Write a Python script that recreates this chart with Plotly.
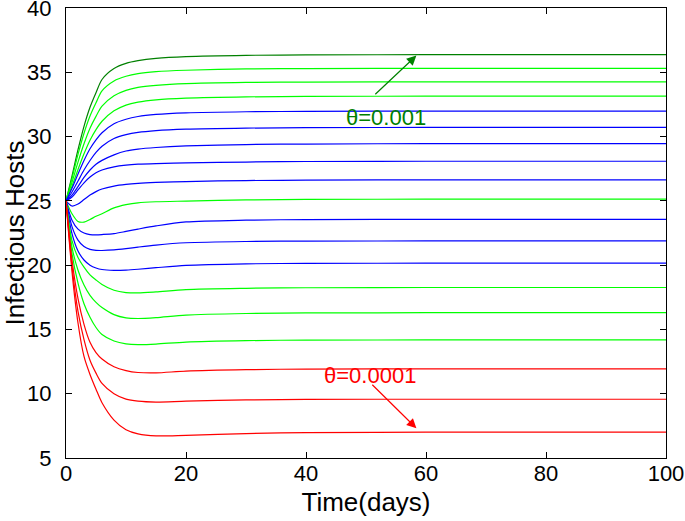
import plotly.graph_objects as go

t = [0, 1, 2, 3, 4, 5, 6, 8, 10, 12, 15, 20, 30, 40, 60, 100]

c1 = [25, 26.93, 28.98, 30.80, 32.28, 33.41, 34.44, 35.29, 35.69, 35.90, 36.08, 36.22, 36.32, 36.35, 36.37, 36.37]
c2 = [25, 26.75, 28.61, 30.26, 31.60, 32.63, 33.56, 34.33, 34.69, 34.90, 35.05, 35.16, 35.26, 35.29, 35.31, 35.31]
c3 = [25, 26.44, 28.01, 29.44, 30.65, 31.57, 32.36, 33.17, 33.59, 33.82, 33.98, 34.12, 34.21, 34.24, 34.26, 34.26]
c4 = [25, 26.14, 27.44, 28.66, 29.72, 30.54, 31.19, 32.00, 32.45, 32.68, 32.86, 32.99, 33.09, 33.12, 33.14, 33.14]
c5 = [25, 25.98, 27.09, 28.14, 29.05, 29.75, 30.30, 31.00, 31.35, 31.56, 31.72, 31.84, 31.93, 31.96, 31.98, 31.98]
c6 = [25, 25.69, 26.54, 27.40, 28.14, 28.77, 29.25, 29.85, 30.15, 30.33, 30.47, 30.58, 30.66, 30.69, 30.71, 30.71]
c7 = [25, 25.45, 26.11, 26.82, 27.40, 27.85, 28.15, 28.58, 28.88, 29.03, 29.15, 29.27, 29.38, 29.42, 29.45, 29.45]
c8 = [25, 25.30, 25.85, 26.40, 26.85, 27.18, 27.40, 27.65, 27.78, 27.85, 27.90, 27.95, 28.02, 28.06, 28.08, 28.08]
c9 = [25, 24.60, 24.75, 25.10, 25.45, 25.72, 25.92, 26.15, 26.28, 26.36, 26.43, 26.50, 26.58, 26.61, 26.63, 26.63]
c10 = [25, 24.00, 23.40, 23.35, 23.55, 23.80, 24.00, 24.45, 24.70, 24.85, 24.93, 24.98, 25.07, 25.11, 25.13, 25.13]
c11 = [25, 23.50, 22.80, 22.50, 22.38, 22.36, 22.38, 22.45, 22.62, 22.80, 23.05, 23.36, 23.50, 23.54, 23.56, 23.56]
c12 = [25, 23.00, 21.95, 21.45, 21.23, 21.15, 21.14, 21.18, 21.28, 21.40, 21.56, 21.74, 21.84, 21.87, 21.88, 21.88]
c13 = [25, 22.45, 21.10, 20.40, 20.00, 19.78, 19.66, 19.60, 19.62, 19.68, 19.80, 19.98, 20.10, 20.14, 20.15, 20.15]
c14 = [25, 21.90, 20.60, 19.85, 19.25, 18.85, 18.50, 18.05, 17.87, 17.84, 17.92, 18.10, 18.20, 18.24, 18.26, 18.26]
c15 = [25, 21.40, 19.60, 18.45, 17.65, 17.10, 16.70, 16.15, 15.90, 15.85, 15.92, 16.12, 16.24, 16.28, 16.30, 16.30]
c16 = [25, 20.90, 18.60, 17.00, 15.95, 15.15, 14.60, 14.10, 13.88, 13.82, 13.86, 14.02, 14.13, 14.17, 14.18, 14.18]
c17 = [25, 20.40, 17.40, 15.40, 14.00, 13.20, 12.70, 12.10, 11.80, 11.65, 11.62, 11.76, 11.87, 11.92, 11.93, 11.93]
c18 = [25, 19.90, 16.40, 14.20, 12.60, 11.60, 10.80, 10.00, 9.58, 9.42, 9.35, 9.42, 9.52, 9.56, 9.57, 9.57]
c19 = [25, 19.50, 15.50, 12.90, 11.50, 10.35, 9.30, 7.95, 7.20, 6.88, 6.72, 6.76, 6.90, 6.97, 7.01, 7.02]

curves = [c1, c2, c3, c4, c5, c6, c7, c8, c9, c10, c11, c12, c13, c14, c15, c16, c17, c18, c19]

DG = "rgb(0,128,0)"
G = "rgb(0,255,0)"
B = "rgb(0,0,255)"
R = "rgb(255,0,0)"
colors = [DG, G, G, G, B, B, B, B, B, G, B, B, B, G, G, G, R, R, R]

x_ticks = [0, 20, 40, 60, 80, 100]
y_ticks = [5, 10, 15, 20, 25, 30, 35, 40]

label_hi = "θ=0.001"
label_lo = "θ=0.0001"

fig = go.Figure()
for y, c in zip(curves, colors):
    fig.add_trace(go.Scatter(x=t, y=y, mode="lines",
                             line=dict(color=c, width=1.2, shape="spline", smoothing=0.8),
                             hoverinfo="skip"))

FONT = "Liberation Sans, Arial, Helvetica, sans-serif"

fig.update_layout(
    width=685, height=521,
    margin=dict(l=66, r=19, t=8, b=63, autoexpand=False),
    plot_bgcolor="white", paper_bgcolor="white",
    showlegend=False,
    font=dict(family=FONT, size=22, color="black"),
)
axis_common = dict(showline=True, linecolor="black", linewidth=1, mirror="ticks",
                   ticks="inside", ticklen=6, tickcolor="black", tickwidth=1,
                   showgrid=False, zeroline=False, automargin=False,
                   ticklabeloverflow="allow")
fig.update_xaxes(range=[0, 100], tickvals=x_ticks, ticklabelstandoff=-4,
                 title=dict(text="Time(days)", standoff=7), **axis_common)
fig.update_yaxes(range=[5, 40], tickvals=y_ticks, ticklabelstandoff=9,
                 title=dict(text="Infectious Hosts", standoff=10), **axis_common)

# arrows
fig.add_annotation(x=58.4, y=36.3, ax=51.3, ay=33.18, xref="x", yref="y", axref="x", ayref="y",
                   text="", showarrow=True, arrowhead=2, arrowsize=1.6, arrowwidth=1.2,
                   arrowcolor=DG)
fig.add_annotation(x=58.4, y=7.31, ax=50.8, ay=10.81, xref="x", yref="y", axref="x", ayref="y",
                   text="", showarrow=True, arrowhead=2, arrowsize=1.6, arrowwidth=1.2,
                   arrowcolor=R)
fig.add_annotation(x=53.3, y=31.5, xref="x", yref="y", text=label_hi, showarrow=False,
                   font=dict(family=FONT, size=22, color=DG))
fig.add_annotation(x=50.7, y=11.4, xref="x", yref="y", text=label_lo, showarrow=False,
                   font=dict(family=FONT, size=22, color=R))

fig.write_html("out.html", config={"displayModeBar": False, "staticPlot": True},
               post_script="document.body.style.margin='0';")
